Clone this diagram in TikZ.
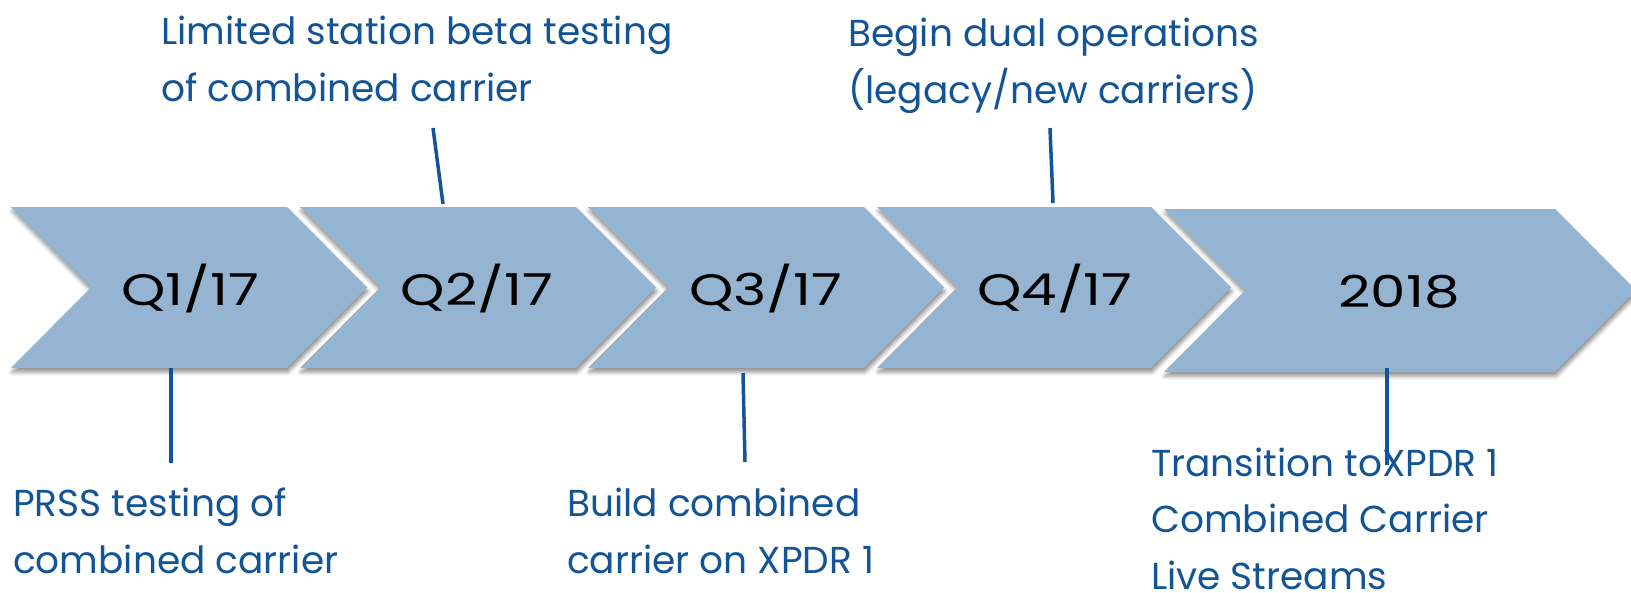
\documentclass[tikz,border=0pt]{standalone}
\usepackage{fontspec}
\setmainfont{Poppins}
\newfontfamily\periodfont[FakeStretch=1.28]{Poppins}
\usetikzlibrary{shadows.blur}

\definecolor{chevfill}{RGB}{148,180,210}
\definecolor{notecol}{RGB}{18,84,150}

\tikzset{
  chev/.style={fill=chevfill, draw=none,
    blur shadow={shadow xshift=1pt, shadow yshift=-4pt,
                 shadow blur radius=4pt, shadow opacity=45}},
  period/.style={text=black, font=\periodfont\fontsize{44}{52}\selectfont, anchor=base, inner sep=0pt},
  note/.style={text=notecol, font=\fontsize{37.5}{56.5}\selectfont, align=left,
               anchor=base west, inner sep=0pt},
  tick/.style={draw=notecol, line width=3.5pt}
}

\begin{document}
\begin{tikzpicture}[x=1pt, y=-1pt]
  \useasboundingbox (0,0) rectangle (1631,592);

  % timeline chevrons
  \path[chev] (11,207) -- (287,207) -- (367,287.5) -- (287,368) -- (11,368) -- (91,287.5) -- cycle;
  \path[chev] (300,207) -- (576,207) -- (656,287.5) -- (576,368) -- (300,368) -- (380,287.5) -- cycle;
  \path[chev] (588,207) -- (864,207) -- (944,287.5) -- (864,368) -- (588,368) -- (668,287.5) -- cycle;
  \path[chev] (877,207) -- (1151,207) -- (1231,287.5) -- (1151,368) -- (877,368) -- (957,287.5) -- cycle;
  \path[chev] (1164,209) -- (1555,209) -- (1636,290.5) -- (1555,372) -- (1164,372) -- (1245,290.5) -- cycle;

  % period labels
  \node[period] (p1) at (190,305) {Q1/17};
  \node[period] (p2) at (477,305) {Q2/17};
  \node[period] (p3) at (766,305) {Q3/17};
  \node[period] (p4) at (1055,305) {Q4/17};
  \node[period] (p5) at (1399,307) {2018};

  % milestone notes (anchored on the baseline of their last line)
  \node[note] (n1) at (13,573) {PRSS testing of\\combined carrier};
  \node[note] (n2) at (161,101) {Limited station beta testing\\of combined carrier};
  \node[note] (n3) at (567,573) {Build combined\\carrier on XPDR 1};
  \node[note] (n4) at (848,103) {Begin dual operations\\(legacy/new carriers)};
  \node[note] (n5) at (1151,589) {Transition toXPDR 1\\Combined Carrier\\Live Streams};

  % tick marks tying notes to the timeline
  \coordinate (a1) at (171,368);  \coordinate (b1) at (171,463);
  \coordinate (a2) at (443,204);  \coordinate (b2) at (433,128);
  \coordinate (a3) at (743,373);  \coordinate (b3) at (745,462);
  \coordinate (a4) at (1053,203); \coordinate (b4) at (1050,128);
  \coordinate (a5) at (1387,368); \coordinate (b5) at (1387,465);
  \draw[tick] (a1) -- (b1);
  \draw[tick] (a2) -- (b2);
  \draw[tick] (a3) -- (b3);
  \draw[tick] (a4) -- (b4);
  \draw[tick] (a5) -- (b5);
\end{tikzpicture}
\end{document}
